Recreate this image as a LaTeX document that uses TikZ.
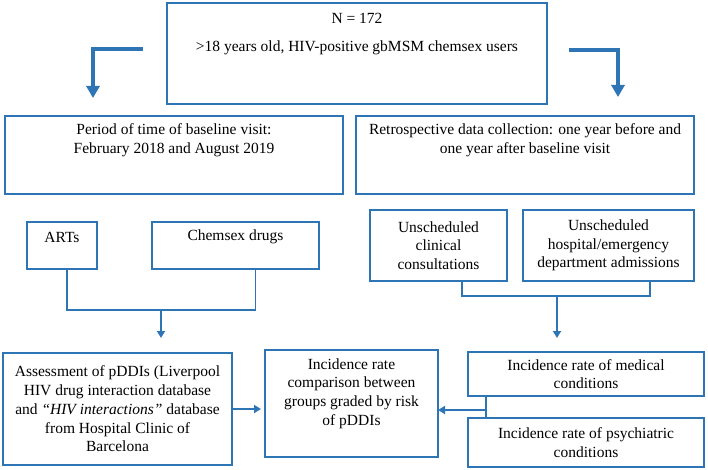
\documentclass[tikz,border=0pt]{standalone}
\usepackage{fontspec}
\setmainfont{Liberation Serif}
\usetikzlibrary{arrows.meta,positioning}

\begin{document}
\begin{tikzpicture}[x=1pt, y=-1pt,
    box/.style={draw=cFlow, line width=1.6pt, inner sep=0pt, outer sep=0pt, anchor=north west},
    txt/.style={align=center, inner sep=0pt, font=\fontsize{15.5}{18.7}\selectfont},
    bigarrow/.style={cFlow, line width=3.6pt, -{Triangle[length=12pt,width=13pt]}},
    link/.style={cFlow, line width=1.8pt},
    linkarrow/.style={link, -{Triangle[length=7pt,width=8pt]}}]
          \definecolor{cFlow}{RGB}{46, 117, 182}

          \path[use as bounding box] (0,0) rectangle (708,470);

          % population
          \node[box, minimum width=380pt, minimum height=101pt] (pop) at (167,3) {};
          \node[txt] (popn) at ([yshift=-15pt]pop.north) {N = 172};
          \node[txt] (popc) at ([yshift=-45pt]pop.north) {>18 years old, HIV-positive gbMSM chemsex users};

          \coordinate (lfrom) at (143,49);
          \coordinate (lto) at (93,98);
          \coordinate (rfrom) at (569,50);
          \coordinate (rto) at (618,97);
          \draw[bigarrow] (lfrom) -| (lto);
          \draw[bigarrow] (rfrom) -| (rto);

          % second row
          \node[box, minimum width=338pt, minimum height=78pt] (period) at (5,116) {};
          \node[txt] (periodt) at ([yshift=-24.5pt]period.north) {Period of time of baseline visit:\\February 2018 and August 2019};
          \node[box, minimum width=338pt, minimum height=78pt] (retro) at (356,116) {};
          \node[txt] (retrot) at ([yshift=-24.5pt]retro.north) {Retrospective data collection: one year before and\\one year after baseline visit};

          % third row
          \node[box, minimum width=70pt, minimum height=47pt] (arts) at (27,222) {};
          \node[txt] (artst) at ([yshift=-15pt]arts.north) {ARTs};
          \node[box, minimum width=167pt, minimum height=47pt] (chem) at (152,222) {};
          \node[txt] (chemt) at ([yshift=-15pt]chem.north) {Chemsex drugs};
          \node[box, txt, minimum width=137pt, minimum height=71pt] (clin) at (370,210) {Unscheduled\\clinical\\consultations};
          \node[box, txt, minimum width=171pt, minimum height=71pt] (hosp) at (523,210) {Unscheduled\\hospital/emergency\\department admissions};

          \coordinate (jleft) at (161,310);
          \coordinate (lhead) at (161,338);
          \draw[link] ([xshift=5pt]arts.south) |- (jleft) -| ([xshift=20pt]chem.south);
          \draw[linkarrow] (jleft) -- (lhead);

          \coordinate (jright) at (557,296);
          \coordinate (rhead) at (557,338);
          \draw[link] ([xshift=23.5pt]clin.south) |- (jright) -| ([xshift=41.5pt]hosp.south);
          \draw[linkarrow] (jright) -- (rhead);

          % bottom row
          \node[box, txt, minimum width=229pt, minimum height=112pt] (asmt) at (3,353) {Assessment of pDDIs (Liverpool\\HIV drug interaction database\\and \textit{``HIV interactions''} database\\from Hospital Clinic of\\Barcelona};
          \node[box, minimum width=173pt, minimum height=107pt] (comp) at (265,350) {};
          \node[txt] (compt) at ([yshift=-43.5pt]comp.north) {Incidence rate\\comparison between\\groups graded by risk\\of pDDIs};
          \node[box, txt, minimum width=236pt, minimum height=44pt] (med) at (468,352) {Incidence rate of medical\\conditions};
          \node[box, txt, minimum width=236pt, minimum height=49pt] (psy) at (468,418) {Incidence rate of psychiatric\\conditions};

          \draw[linkarrow, shorten >=4pt] (asmt.east) -- (asmt.east -| comp.west);
          \draw[link] ([xshift=18pt]med.south west) -- ([xshift=18pt]psy.north west);
          \coordinate (jmid) at (486,410);
          \draw[linkarrow] (jmid) -- (jmid -| comp.east);
        \end{tikzpicture}
\end{document}
